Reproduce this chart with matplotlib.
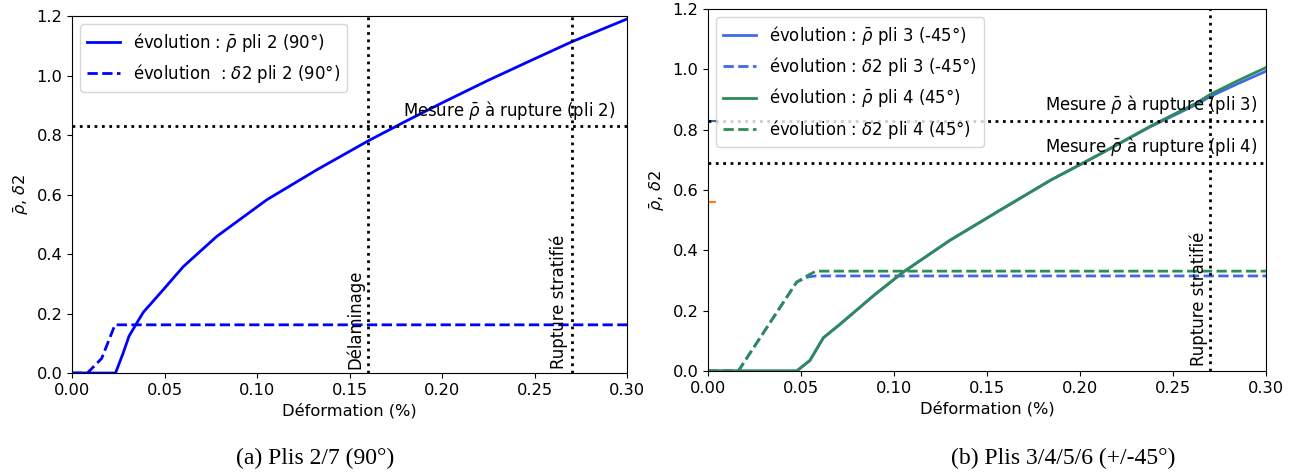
import matplotlib
matplotlib.use("Agg")
import matplotlib.pyplot as plt

# --- data ---
# (a) pli 2 (90°)
x_rho2 = [0.0, 0.0235, 0.0275, 0.0308, 0.035, 0.0386, 0.0422, 0.049, 0.0602, 0.0782,
          0.1052, 0.1323, 0.16, 0.18, 0.20, 0.225, 0.25, 0.27, 0.30]
rho2 = [0.0, 0.0, 0.065, 0.124, 0.168, 0.205, 0.23, 0.278, 0.358, 0.459,
        0.582, 0.683, 0.78, 0.845, 0.908, 0.984, 1.056, 1.113, 1.19]
x_d2 = [0.0, 0.0083, 0.016, 0.0232, 0.30]
d2 = [0.0, 0.0, 0.049, 0.162, 0.162]

# (b) plis 3 / 4 (+/-45°)
x_rho34 = [0.0, 0.0477, 0.0548, 0.062, 0.07, 0.0763, 0.09, 0.105, 0.13, 0.157,
           0.184, 0.211, 0.2376, 0.2627, 0.27, 0.285, 0.30]
rho3 = [0.0, 0.0, 0.035, 0.11, 0.15, 0.183, 0.255, 0.328, 0.433, 0.533,
        0.632, 0.72, 0.809, 0.884, 0.91, 0.953, 0.994]
rho4 = [0.0, 0.0, 0.035, 0.11, 0.15, 0.183, 0.255, 0.328, 0.433, 0.533,
        0.632, 0.72, 0.811, 0.889, 0.917, 0.963, 1.006]
x_d34 = [0.0, 0.0163, 0.0477, 0.054, 0.058, 0.30]
d3 = [0.0, 0.0, 0.295, 0.312, 0.315, 0.315]
d4 = [0.0, 0.0, 0.295, 0.318, 0.331, 0.331]

mesure_a = 0.83
mesure_b3, mesure_b4 = 0.83, 0.69
delam = 0.16
rupture = 0.27

plt.rcParams["font.family"] = ["DejaVu Sans"]
plt.rcParams["font.size"] = 11.9

fig = plt.figure(figsize=(12.96, 4.75), dpi=100)
ax1 = fig.add_axes([0.0556, 0.2147, 0.4282, 0.7516])
ax2 = fig.add_axes([0.5463, 0.2190, 0.4306, 0.7620])

# left panel
ax1.plot(x_rho2, rho2, color="blue", lw=2, label=r"évolution : $\bar{\rho}$ pli 2 (90°)")
ax1.plot(x_d2, d2, color="blue", lw=2, ls="--", label=r"évolution  : $\delta 2$ pli 2 (90°)")
ax1.axhline(mesure_a, color="black", ls=":", lw=2)
ax1.axvline(delam, color="black", ls=":", lw=2)
ax1.axvline(rupture, color="black", ls=":", lw=2)
ax1.text(0.179, 0.845, r"Mesure $\bar{\rho}$ à rupture (pli 2)", va="bottom")
ax1.text(0.153, 0.015, "Délaminage", rotation=90, ha="center", va="bottom")
ax1.text(0.263, 0.015, "Rupture stratifié", rotation=90, ha="center", va="bottom")
ax1.set_xlim(0, 0.30)
ax1.set_ylim(0, 1.2)
ax1.set_xlabel("Déformation (%)", fontsize=11.7)
ax1.set_ylabel(r"$\bar{\rho}$, $\delta 2$", fontsize=11.7)
ax1.tick_params(labelsize=11.7)
ax1.legend(loc="upper left")

# right panel
ax2.plot([0, 0.004], [0.56, 0.56], color="#ff7f0e", lw=1.5)
ax2.plot([0, 0.004], [0.83, 0.83], color="#1f77b4", lw=1.5)
ax2.plot(x_rho34, rho3, color="royalblue", lw=2, label=r"évolution : $\bar{\rho}$ pli 3 (-45°)")
ax2.plot(x_d34, d3, color="royalblue", lw=2, ls="--", label=r"évolution : $\delta 2$ pli 3 (-45°)")
ax2.plot(x_rho34, rho4, color="seagreen", lw=2, label=r"évolution : $\bar{\rho}$ pli 4 (45°)")
ax2.plot(x_d34, d4, color="seagreen", lw=2, ls="--", label=r"évolution : $\delta 2$ pli 4 (45°)")
ax2.axhline(mesure_b3, color="black", ls=":", lw=2)
ax2.axhline(mesure_b4, color="black", ls=":", lw=2)
ax2.axvline(rupture, color="black", ls=":", lw=2)
ax2.text(0.2955, 0.845, r"Mesure $\bar{\rho}$ à rupture (pli 3)", ha="right", va="bottom")
ax2.text(0.2955, 0.705, r"Mesure $\bar{\rho}$ à rupture (pli 4)", ha="right", va="bottom")
ax2.text(0.264, 0.015, "Rupture stratifié", rotation=90, ha="center", va="bottom")
ax2.set_xlim(0, 0.30)
ax2.set_ylim(0, 1.2)
ax2.set_xlabel("Déformation (%)", fontsize=11.7)
ax2.set_ylabel(r"$\bar{\rho}$, $\delta 2$", fontsize=11.7)
ax2.tick_params(labelsize=11.7)
ax2.legend(loc="upper left")

cap = dict(family="Liberation Serif", fontsize=17, ha="center", va="center")
fig.text(315 / 1296, 1 - 458 / 475, "(a) Plis 2/7 (90°)", **cap)
fig.text(1063 / 1296, 1 - 458 / 475, "(b) Plis 3/4/5/6 (+/-45°)", **cap)

fig.savefig("out.png", dpi=100)
